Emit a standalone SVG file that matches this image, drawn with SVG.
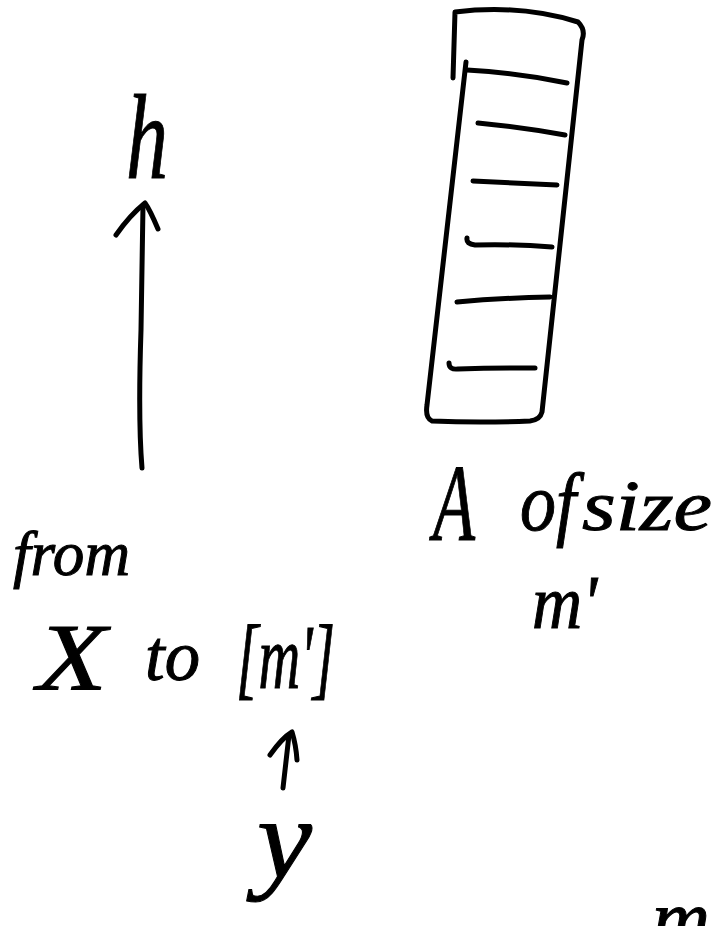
<svg xmlns="http://www.w3.org/2000/svg" width="718" height="926" viewBox="0 0 718 926">
<style>
.ink{fill:none;stroke:#000;stroke-width:5;stroke-linecap:round;stroke-linejoin:round}
.t{font-family:"Liberation Serif","DejaVu Serif",serif;font-style:italic;fill:#000;stroke:#000;stroke-width:1}
</style>
<rect width="718" height="926" fill="#fff"/>
<g id="array-A">
<path class="ink" d="M453,78 L455,12 Q520,4 578,22 Q586,30 582,40 L542,412 Q540,420 530,421 Q480,423 432,421 Q425,418 427,405 L466,62"/>
<path class="ink" d="M467,70 Q520,73 567,83"/>
<path class="ink" d="M478,123 Q520,127 565,135"/>
<path class="ink" d="M473,181 Q515,183 557,185"/>
<path class="ink" d="M467,238 Q466,244 475,245 Q515,244 552,247"/>
<path class="ink" d="M457,302 Q500,298 550,297"/>
<path class="ink" d="M449,363 Q449,370 458,369 Q495,368 535,368"/>
</g>
<g id="connectors">
<path class="ink" d="M142,468 Q138,420 141,330 L143,205"/>
<path class="ink" d="M116,235 Q130,215 145,203 Q150,210 158,229"/>
<path class="ink" d="M283,788 L289,735"/>
<path class="ink" d="M270,755 Q282,738 292,732 Q296,745 297,760"/>
</g>
<g id="label-h"><text class="t" x="126" y="178" font-size="120" textLength="42" lengthAdjust="spacingAndGlyphs">h</text></g>
<g id="label-from"><text class="t" x="13" y="575" font-size="64" textLength="117" lengthAdjust="spacingAndGlyphs">from</text></g>
<g id="label-x-to-m">
<text class="t" x="37" y="690" font-size="95" textLength="70" lengthAdjust="spacingAndGlyphs">X</text>
<text class="t" x="145" y="680" font-size="72" textLength="55" lengthAdjust="spacingAndGlyphs">to</text>
<text class="t" x="236" y="688" font-size="92" textLength="99" lengthAdjust="spacingAndGlyphs">[m']</text>
</g>
<g id="label-A">
<text class="t" x="433" y="540" font-size="110" textLength="42" lengthAdjust="spacingAndGlyphs">A</text>
<text class="t" x="520" y="530" font-size="82" textLength="56" lengthAdjust="spacingAndGlyphs">of</text>
<text class="t" x="582" y="530" font-size="72" textLength="130" lengthAdjust="spacingAndGlyphs">size</text>
<text class="t" x="532" y="628" font-size="76" textLength="65" lengthAdjust="spacingAndGlyphs">m'</text>
</g>
<g id="label-y"><text class="t" x="257" y="878" font-size="115" textLength="55" lengthAdjust="spacingAndGlyphs">y</text></g>
<g id="label-m"><text class="t" x="652" y="945" font-size="80" textLength="58" lengthAdjust="spacingAndGlyphs">m</text></g>
</svg>
